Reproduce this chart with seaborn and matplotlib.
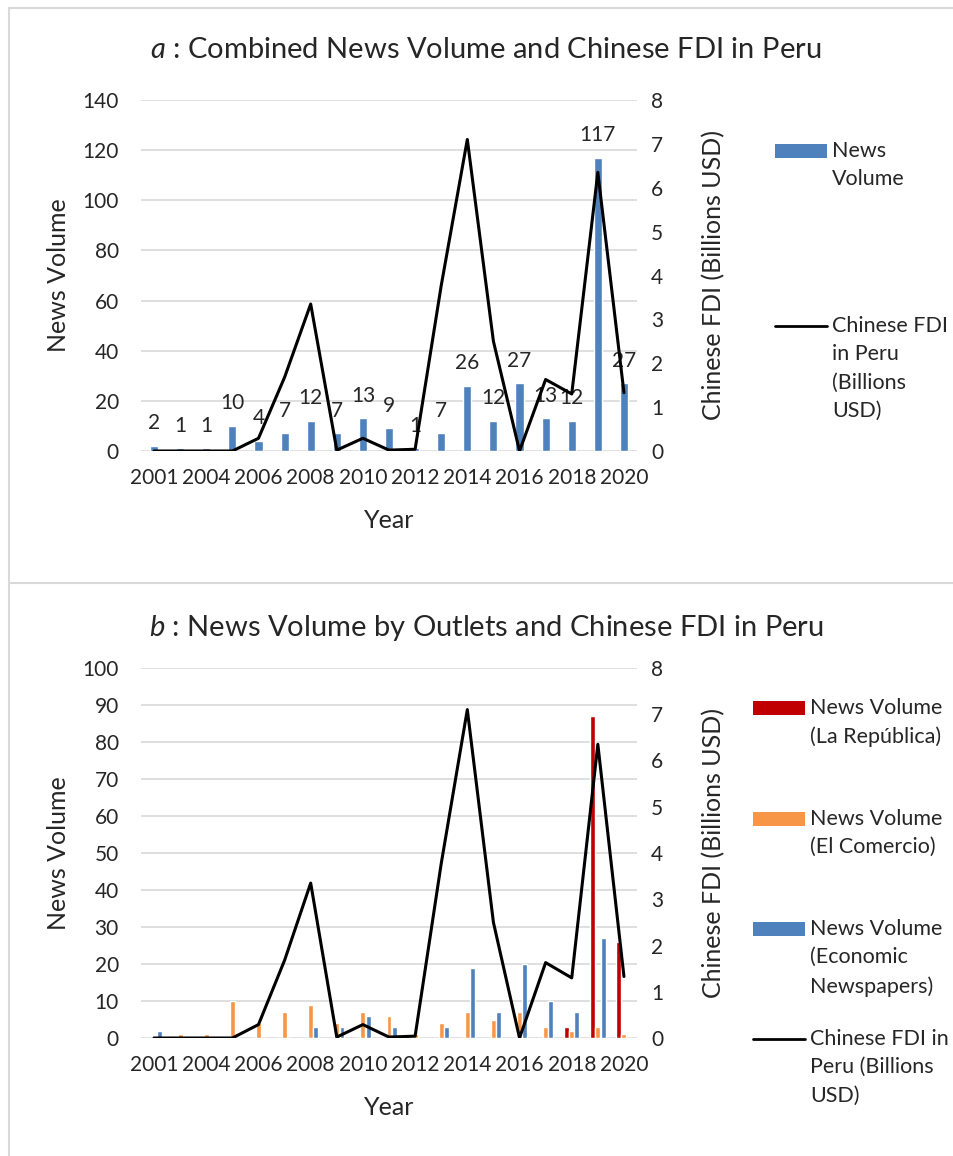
import numpy as np
import pandas as pd
import seaborn as sns
import matplotlib.pyplot as plt
from matplotlib.patches import Rectangle
from matplotlib.lines import Line2D

# Data
years = [2001, 2003, 2004, 2005, 2006, 2007, 2008, 2009, 2010, 2011,
         2012, 2013, 2014, 2015, 2016, 2017, 2018, 2019, 2020]
news_total = [2, 1, 1, 10, 4, 7, 12, 7, 13, 9, 1, 7, 26, 12, 27, 13, 12, 117, 27]
la_republica = [0, 0, 0, 0, 0, 0, 0, 0, 0, 0, 0, 0, 0, 0, 0, 0, 3, 87, 26]
el_comercio = [0, 1, 1, 10, 4, 7, 9, 4, 7, 6, 1, 4, 7, 5, 7, 3, 2, 3, 1]
economic = [2, 0, 0, 0, 0, 0, 3, 3, 6, 3, 0, 3, 19, 7, 20, 10, 7, 27, 0]
fdi = [0, 0, 0, 0, 0.29, 1.68, 3.35, 0.02, 0.29, 0.02, 0.04, 3.77, 7.10,
       2.50, 0, 1.63, 1.30, 6.35, 1.33]

outlets = ['News Volume (La República)', 'News Volume (El Comercio)',
           'News Volume (Economic Newspapers)']
outlet_colors = {outlets[0]: '#C00000', outlets[1]: '#F79646', outlets[2]: '#4F81BD'}
total_color = '#4F81BD'

df_total = pd.DataFrame({'year': years, 'news': news_total, 'fdi': fdi})
df_out = pd.DataFrame({'year': years, outlets[0]: la_republica,
                       outlets[1]: el_comercio, outlets[2]: economic})
df_out = df_out.melt(id_vars='year', var_name='outlet', value_name='news')

# Style
sns.set_style('white')
plt.rcParams['font.family'] = ['Lato', 'DejaVu Sans']
plt.rcParams['mathtext.fontset'] = 'custom'
plt.rcParams['mathtext.it'] = 'Lato:italic'
plt.rcParams['mathtext.rm'] = 'Lato'

W, H = 954, 1156
fs_tick = 15
fs_lab = 18
fs_leg = 15.5
fs_title = 21
grid_c = '#d9d9d9'

def fx(px):
    return px / W

def fy(py):
    return 1 - py / H

fig = plt.figure(figsize=(W / 100, H / 100), dpi=100)

# panel frames
fig.add_artist(Line2D([fx(9), 1], [fy(8), fy(8)], color=grid_c, lw=1.5))
fig.add_artist(Line2D([fx(9), fx(9)], [0, fy(8)], color=grid_c, lw=1.5))
fig.add_artist(Line2D([fx(9), 1], [fy(583), fy(583)], color=grid_c, lw=1.5))

x_pos = np.arange(len(years))


def style_axes(ax, ax2, ymax, ystep, top_px, bot_px):
    ax.set_ylim(0, ymax)
    ax.set_yticks(np.arange(0, ymax + 1, ystep))
    ax2.set_ylim(0, 8)
    ax2.set_yticks(range(0, 9))
    ax.set_xlim(-0.5, len(years) - 0.5)
    ax.set_xticks(x_pos[::2])
    ax.set_xticklabels([str(y) for y in years[::2]])
    ax.set_axisbelow(True)
    ax.yaxis.grid(True, color=grid_c, lw=1.2)
    for a in (ax, ax2):
        for s in a.spines.values():
            s.set_visible(False)
    ax.tick_params(axis='y', length=0, pad=16, labelsize=fs_tick)
    ax.tick_params(axis='x', length=0, pad=12, labelsize=fs_tick)
    ax2.tick_params(axis='y', length=0, pad=10, labelsize=fs_tick)
    ax.set_xlabel('Year', fontsize=fs_lab)
    ax.set_ylabel('News Volume', fontsize=fs_lab)
    ax2.set_ylabel('Chinese FDI (Billions USD)', fontsize=fs_lab)
    h = bot_px - top_px
    ax.xaxis.set_label_coords(0.5, -58 / h)
    ax.yaxis.set_label_coords((70 - 141) / 496, 0.5)
    ax2.yaxis.set_label_coords((702 - 141) / 496, 0.5)


def legend_entry(y_px, x_handle, label, color, kind):
    if kind == 'bar':
        fig.add_artist(Rectangle((fx(x_handle), fy(y_px + 7)), 52 / W, 14 / H,
                                 transform=fig.transFigure, color=color, lw=0))
    else:
        fig.add_artist(Line2D([fx(x_handle), fx(x_handle + 52)], [fy(y_px), fy(y_px)],
                              color=color, lw=2))
    fig.text(fx(x_handle + 57), fy(y_px - 10), label, fontsize=fs_leg, va='top',
             ha='left', linespacing=1.52)


# ---- Panel a ----
top_a, bot_a = 100, 451
ax = fig.add_axes([fx(141), fy(bot_a), 496 / W, (bot_a - top_a) / H])
sns.barplot(df_total, x='year', y='news', color=total_color, saturation=1,
            width=0.31, ax=ax)
ax.bar_label(ax.containers[0], padding=9, fontsize=fs_tick)
ax2 = ax.twinx()
sns.lineplot(x=x_pos, y=df_total['fdi'], color='black', lw=2.2, ax=ax2)
style_axes(ax, ax2, 140, 20, top_a, bot_a)
fig.text(fx(486), fy(50), r'$\mathit{a}$ : Combined News Volume and Chinese FDI in Peru',
         ha='center', va='center', fontsize=fs_title)
legend_entry(151, 775, 'News\nVolume', total_color, 'bar')
legend_entry(326, 775, 'Chinese FDI\nin Peru\n(Billions\nUSD)', 'black', 'line')

# ---- Panel b ----
top_b, bot_b = 668, 1038
bx = fig.add_axes([fx(141), fy(bot_b), 496 / W, (bot_b - top_b) / H])
sns.barplot(df_out, x='year', y='news', hue='outlet', hue_order=outlets,
            palette=outlet_colors, saturation=1, width=0.6, gap=0.05,
            legend=False, ax=bx)
bx2 = bx.twinx()
sns.lineplot(x=x_pos, y=df_total['fdi'], color='black', lw=2.2, ax=bx2)
style_axes(bx, bx2, 100, 10, top_b, bot_b)
fig.text(fx(486), fy(628), r'$\mathit{b}$ : News Volume by Outlets and Chinese FDI in Peru',
         ha='center', va='center', fontsize=fs_title)
legend_entry(708, 753, 'News Volume\n(La República)', outlet_colors[outlets[0]], 'bar')
legend_entry(819, 753, 'News Volume\n(El Comercio)', outlet_colors[outlets[1]], 'bar')
legend_entry(929, 753, 'News Volume\n(Economic\nNewspapers)', outlet_colors[outlets[2]], 'bar')
legend_entry(1039, 753, 'Chinese FDI in\nPeru (Billions\nUSD)', 'black', 'line')

fig.savefig('out.png', dpi=100)
